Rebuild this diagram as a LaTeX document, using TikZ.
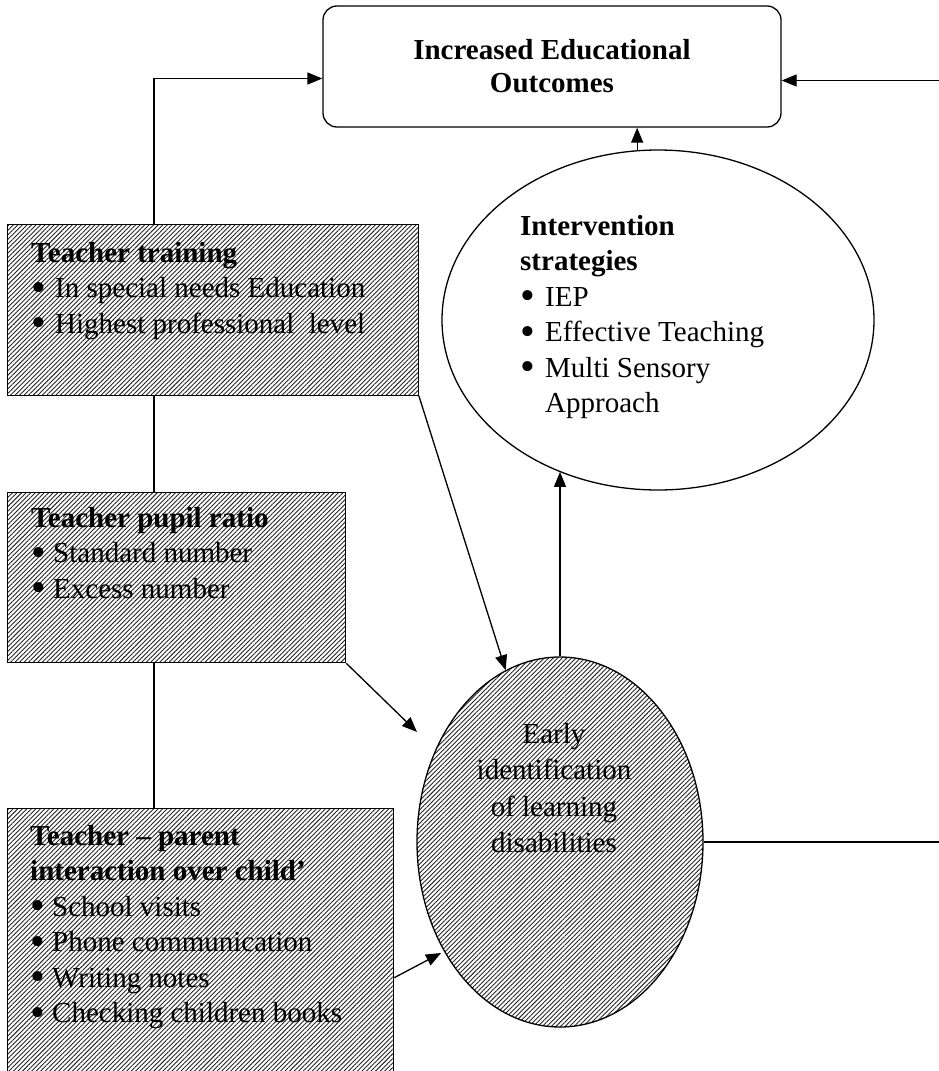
\documentclass[tikz,border=0pt]{standalone}
\usepackage{fontspec}
\setmainfont{Liberation Serif}
\usetikzlibrary{shapes.geometric,patterns.meta,arrows.meta,calc}
\newcommand{\mybul}[1][24pt]{\makebox[#1][l]{\raisebox{-3.5pt}[0pt][0pt]{\scalebox{1.45}{\textbullet}}}}
\begin{document}
\begin{tikzpicture}[x=1pt,y=-1pt,
  every node/.style={font=\fontsize{29}{35.5}\selectfont},
  frame/.style={draw, line width=1.3pt},
  hatch/.style={frame, rectangle, inner sep=0pt, anchor=north west,
    pattern={Lines[angle=45,distance=3.2pt,line width=0.9pt]}, pattern color=black!85},
  conn/.style={line width=1.3pt},
  arr/.style={conn, -{Triangle[length=15pt,width=12pt]}},
  txt/.style={inner sep=0pt, anchor=north west, align=left},
]
\fill[white] (0,0) rectangle (939,1071);
\useasboundingbox (0,0) rectangle (939,1071);
\clip (0,0) rectangle (939,1071);

% top box
\node[frame, rounded corners=14pt, minimum width=458pt, minimum height=121pt,
  align=center, font=\fontsize{29}{33}\selectfont\bfseries] (top) at (552,66.5)
  {Increased Educational\\Outcomes};

% hatched boxes
\node[hatch, minimum width=411pt, minimum height=171pt] (tt) at (7,224) {};
\node[txt] (ttx) at (31,242)
  {\textbf{Teacher training}\\\mybul In special needs Education\\\mybul Highest professional\ \ level};

\node[hatch, minimum width=338pt, minimum height=170pt] (tp) at (7,492) {};
\node[txt] (tpx) at (31,507)
  {\textbf{Teacher pupil ratio}\\\mybul[22pt]Standard number\\\mybul[22pt]Excess number};

\node[hatch, minimum width=386pt, minimum height=282pt] (pc) at (7,808) {};
\node[txt] (pcx) at (30,825)
  {\textbf{Teacher – parent}\\\textbf{interaction over child’}\\\mybul[22pt]School visits\\\mybul[22pt]Phone communication\\\mybul[22pt]Writing notes\\\mybul[22pt]Checking children books};

% ellipses
\node[ellipse, frame, minimum width=432pt, minimum height=340pt, inner sep=0pt] (inter) at (658,320) {};
\node[txt] (interx) at (520,215)
  {\textbf{Intervention}\\\textbf{strategies}\\\mybul[25pt]IEP\\\mybul[25pt]Effective Teaching\\\mybul[25pt]Multi Sensory\\\hspace*{25pt}Approach};

\node[ellipse, frame, minimum width=286pt, minimum height=370pt, inner sep=0pt,
  pattern={Lines[angle=45,distance=3.2pt,line width=0.9pt]}, pattern color=black!85] (early) at (560,842) {};
\node[inner sep=0pt, align=center, font=\fontsize{29}{36.5}\selectfont] (earlyx) at (554,788)
  {Early\\identification\\of learning\\disabilities};

% connectors
\coordinate (spine) at (154,0);
\coordinate (rside) at (950,0);
\coordinate (tpTip) at (417,732);
\coordinate (pcTip) at (441,953);

\draw[arr] (tt.north -| spine) |- ([yshift=-12pt]top.west);
\draw[arr] (early.east) -- (early.east -| rside) |- ([yshift=-14pt]top.east);
\draw[conn] (tt.south -| spine) -- (tp.north -| spine);
\draw[conn] (tp.south -| spine) -- (pc.north -| spine);
\draw[arr] (tt.south east) -- (early);
\draw[arr] (tp.south east) -- (tpTip);
\draw[arr] ([yshift=-28pt]pc.east) -- (pcTip);
\draw[arr] (early.north) -- (early.north |- inter.237);
\draw[arr] (inter.97) -- (inter.97 |- top.south);
\end{tikzpicture}
\end{document}
